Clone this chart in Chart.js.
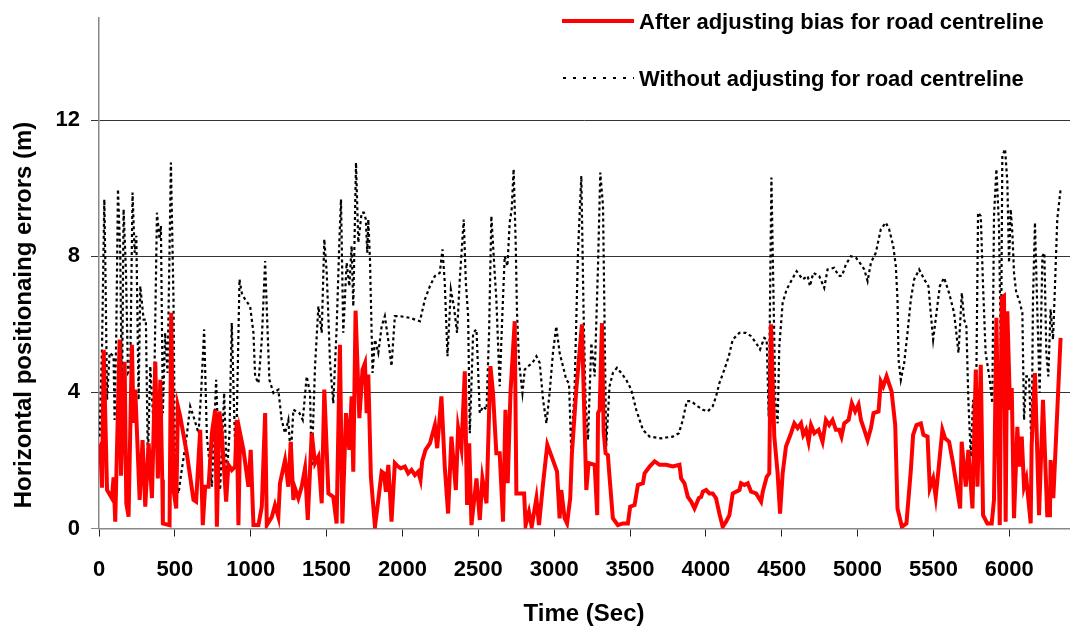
<!DOCTYPE html>
<html>
<head>
<meta charset="utf-8">
<title>Horizontal positioning errors</title>
<script src="https://cdn.jsdelivr.net/npm/chart.js@4.4.1/dist/chart.umd.min.js"></script>
<style>
    html, body { margin: 0; padding: 0; background: #fff; }
    #wrap { width: 1070px; height: 626px; position: relative; }
</style>
</head>
<body>
<div id="wrap"><canvas id="errorChart"></canvas></div>
<script>
// Tick labels
const xTicks = [0, 500, 1000, 1500, 2000, 2500, 3000, 3500, 4000, 4500, 5000, 5500, 6000];
const yTicks = [0, 4, 8, 12];

// After adjusting bias for road centreline (red)
const adjustedTime = [
    0, 9, 20, 31, 53, 85, 96, 107, 136, 145, 169, 180, 195, 217, 228, 239, 268, 287, 305, 327,
    349, 371, 388, 404, 417, 421, 465, 476, 491, 509, 520, 535, 579, 623, 640, 667, 684, 700, 722, 744,
    766, 777, 794, 809, 838, 853, 875, 897, 908, 919, 930, 952, 985, 1000, 1018, 1051, 1073, 1095, 1106, 1139,
    1160, 1182, 1193, 1226, 1248, 1264, 1281, 1292, 1314, 1336, 1358, 1376, 1402, 1424, 1446, 1468, 1485, 1512, 1544, 1566,
    1588, 1604, 1628, 1650, 1665, 1676, 1691, 1716, 1737, 1753, 1764, 1775, 1792, 1819, 1841, 1863, 1878, 1891, 1907, 1928,
    1950, 1972, 1988, 2016, 2038, 2060, 2082, 2104, 2119, 2130, 2152, 2181, 2214, 2229, 2257, 2279, 2301, 2323, 2352, 2367,
    2389, 2411, 2426, 2440, 2455, 2488, 2510, 2527, 2554, 2580, 2597, 2619, 2641, 2663, 2679, 2694, 2712, 2740, 2751, 2784,
    2802, 2812, 2834, 2852, 2883, 2900, 2927, 2955, 2992, 3019, 3036, 3047, 3069, 3085, 3106, 3117, 3146, 3183, 3212, 3227,
    3267, 3284, 3289, 3300, 3315, 3326, 3339, 3354, 3365, 3387, 3420, 3453, 3486, 3501, 3530, 3552, 3585, 3596, 3629, 3662,
    3695, 3738, 3782, 3826, 3837, 3859, 3881, 3903, 3925, 3953, 3969, 3980, 4002, 4023, 4045, 4067, 4089, 4111, 4133, 4155,
    4177, 4199, 4221, 4232, 4254, 4276, 4298, 4331, 4364, 4375, 4401, 4418, 4429, 4451, 4473, 4489, 4506, 4528, 4561, 4583,
    4605, 4627, 4642, 4660, 4677, 4693, 4715, 4743, 4769, 4791, 4813, 4835, 4857, 4879, 4894, 4912, 4941, 4962, 4984, 5006,
    5022, 5044, 5066, 5088, 5105, 5138, 5153, 5169, 5191, 5224, 5248, 5263, 5292, 5322, 5351, 5366, 5388, 5417, 5434, 5461,
    5476, 5498, 5515, 5533, 5559, 5577, 5603, 5629, 5676, 5686, 5713, 5730, 5757, 5779, 5790, 5812, 5827, 5855, 5884, 5899,
    5915, 5937, 5950, 5965, 5976, 5987, 6005, 6016, 6031, 6053, 6064, 6082, 6097, 6112, 6141, 6147, 6169, 6196, 6222, 6250,
    6268, 6272, 6290, 6338
];
const adjustedError = [
    2.3, 2.4, 1.2, 5.25, 1.13, 0.89, 1.5, 0.2, 5.55, 1.55, 4.9, 0.74, 0.35, 5.4, 3.1, 4.08, 0.84, 2.6, 0.64, 2.5,
    0.89, 4.9, 1.47, 4.37, 1.43, 0.15, 0.1, 6.34, 1.13, 0.59, 3.59, 3.3, 2.2, 0.84, 0.79, 2.9, 0.1, 1.23, 1.23, 2.8,
    3.49, 0.05, 3.44, 2.8, 0.79, 1.87, 1.72, 1.82, 3.19, 0.1, 2.8, 2.31, 1.23, 2.31, 0.1, 0.1, 0.64, 3.39, 0.1, 0.34,
    0.69, 0.34, 1.33, 2.01, 1.23, 2.55, 0.84, 1.18, 0.89, 1.23, 1.77, 0.25, 2.8, 1.92, 2.11, 0.74, 4.08, 1.03, 0.93, 0.15,
    5.4, 0.15, 3.39, 2.31, 3.88, 1.67, 6.4, 3.24, 4.67, 4.86, 3.39, 4.52, 1.52, 0.05, 0.84, 1.67, 1.62, 1.08, 1.87, 0.2,
    1.92, 1.82, 1.77, 1.82, 1.62, 1.72, 1.57, 1.67, 1.43, 1.97, 2.31, 2.5, 3.04, 2.36, 3.88, 1.82, 0.44, 2.7, 1.13, 2.95,
    2.36, 4.62, 0.69, 2.5, 0.1, 1.47, 0.25, 1.47, 0.74, 4.77, 3.98, 2.21, 2.21, 0.2, 3.49, 1.33, 3.98, 6.09, 1.03, 1.03,
    1.03, 0.1, 0.49, 0.05, 0.89, 0.1, 1.33, 2.46, 2.01, 1.67, 0.3, 1.13, 0.3, 0.15, 0.89, 2.21, 4.08, 6.0, 1.13, 1.92,
    1.87, 0.39, 3.39, 3.49, 6.04, 2.85, 2.21, 2.16, 1.52, 0.3, 0.1, 0.15, 0.15, 0.64, 0.69, 1.28, 1.33, 1.62, 1.82, 1.97,
    1.87, 1.87, 1.82, 1.87, 1.47, 1.33, 0.93, 0.79, 0.59, 0.89, 0.93, 1.08, 1.13, 1.03, 1.03, 0.89, 0.44, 0.05, 0.2, 0.39,
    1.03, 1.08, 1.13, 1.33, 1.28, 1.33, 1.08, 1.03, 0.79, 1.08, 1.52, 1.62, 6.0, 2.7, 1.62, 0.44, 1.62, 2.41, 2.8, 3.09,
    2.95, 3.09, 2.75, 2.9, 2.55, 3.04, 2.8, 2.9, 2.55, 3.19, 3.04, 3.19, 2.9, 2.9, 2.7, 3.09, 3.19, 3.68, 3.44, 3.64,
    3.19, 2.9, 2.6, 2.95, 3.39, 3.44, 4.32, 4.18, 4.47, 4.03, 3.04, 0.59, 0.05, 0.15, 1.72, 2.75, 3.04, 3.09, 2.75, 2.7,
    1.18, 1.47, 0.93, 1.72, 2.9, 2.65, 2.55, 1.92, 0.59, 2.55, 1.23, 2.31, 0.59, 4.67, 1.23, 4.81, 0.39, 0.15, 0.15, 0.84,
    6.19, 0.1, 6.78, 6.83, 0.2, 6.38, 3.49, 4.13, 0.3, 2.99, 1.82, 2.7, 1.23, 1.47, 0.15, 2.41, 4.57, 0.39, 3.78, 0.39,
    0.39, 2.01, 0.89, 5.6
];

// Without adjusting for road centreline (black dotted)
const rawTime = [
    4, 20, 35, 42, 53, 70, 96, 103, 114, 125, 140, 151, 162, 178, 191, 206, 221, 235, 246, 261,
    272, 294, 309, 322, 338, 360, 382, 399, 408, 421, 436, 452, 474, 491, 502, 524, 542, 575, 601, 623,
    656, 673, 693, 711, 744, 772, 798, 825, 842, 860, 875, 897, 908, 926, 941, 963, 996, 1018, 1029, 1051,
    1073, 1095, 1110, 1123, 1150, 1182, 1204, 1226, 1248, 1264, 1281, 1321, 1343, 1369, 1391, 1402, 1424, 1446, 1468, 1485,
    1501, 1523, 1544, 1566, 1584, 1595, 1610, 1632, 1650, 1665, 1676, 1694, 1709, 1731, 1746, 1759, 1768, 1775, 1786, 1803,
    1819, 1841, 1863, 1884, 1906, 1928, 1950, 1983, 2049, 2115, 2148, 2181, 2214, 2246, 2264, 2279, 2297, 2319, 2339, 2360,
    2378, 2404, 2418, 2433, 2444, 2466, 2488, 2510, 2532, 2554, 2571, 2586, 2608, 2619, 2641, 2659, 2674, 2692, 2707, 2720,
    2733, 2747, 2755, 2769, 2791, 2806, 2828, 2856, 2883, 2905, 2927, 2949, 2970, 2992, 3014, 3036, 3058, 3080, 3098, 3113,
    3135, 3157, 3179, 3194, 3207, 3223, 3245, 3267, 3289, 3304, 3322, 3343, 3365, 3387, 3414, 3442, 3475, 3508, 3541, 3585,
    3629, 3705, 3782, 3822, 3848, 3874, 3903, 3947, 3980, 4012, 4045, 4067, 4089, 4122, 4151, 4177, 4221, 4265, 4298, 4331,
    4357, 4385, 4401, 4414, 4423, 4432, 4445, 4458, 4473, 4484, 4506, 4532, 4568, 4598, 4638, 4671, 4686, 4708, 4747, 4780,
    4802, 4846, 4875, 4897, 4923, 4956, 4989, 5022, 5044, 5066, 5088, 5120, 5153, 5186, 5208, 5235, 5252, 5263, 5270, 5285,
    5307, 5329, 5351, 5373, 5406, 5439, 5467, 5482, 5498, 5520, 5542, 5570, 5603, 5636, 5665, 5687, 5702, 5717, 5730, 5746,
    5761, 5779, 5794, 5812, 5827, 5844, 5871, 5888, 5899, 5915, 5932, 5945, 5954, 5972, 5987, 5998, 6009, 6020, 6031, 6046,
    6064, 6086, 6097, 6112, 6130, 6147, 6156, 6169, 6185, 6200, 6218, 6231, 6244, 6257, 6272, 6288, 6301, 6316, 6338
];
const rawError = [
    2.7, 5.35, 9.67, 7.71, 3.78, 5.16, 5.06, 3.19, 5.75, 9.97, 8.1, 3.49, 9.38, 7.51, 4.57, 4.67, 9.87, 8.1, 8.6, 3.78,
    7.12, 6.14, 6.14, 2.01, 4.77, 3.0, 9.28, 8.5, 8.89, 3.39, 5.75, 4.57, 10.75, 6.73, 1.33, 1.03, 1.62, 2.6, 3.59, 3.29,
    2.8, 3.98, 5.85, 2.7, 1.23, 4.37, 1.13, 3.98, 1.52, 2.8, 6.04, 2.41, 3.19, 7.32, 6.92, 6.73, 6.53, 5.75, 4.47, 4.27,
    5.55, 7.86, 5.94, 4.37, 3.98, 4.08, 3.19, 2.8, 3.19, 2.11, 3.49, 3.39, 3.19, 4.47, 3.98, 1.82, 4.77, 6.53, 5.75, 8.5,
    7.51, 4.86, 3.68, 5.85, 8.4, 9.67, 5.75, 7.81, 7.12, 8.3, 6.53, 10.75, 8.4, 9.28, 9.28, 9.08, 8.1, 9.08, 7.91, 4.57,
    5.55, 5.16, 5.94, 6.24, 5.55, 4.77, 6.24, 6.24, 6.19, 6.09, 6.73, 7.12, 7.42, 7.51, 8.2, 7.22, 5.06, 7.02, 6.53, 5.75,
    7.32, 9.08, 7.22, 6.24, 2.8, 5.75, 5.85, 3.39, 3.59, 3.49, 5.75, 9.18, 7.51, 6.73, 4.18, 6.34, 8.0, 7.71, 8.99, 9.38,
    10.56, 8.3, 6.34, 4.86, 3.98, 4.67, 4.77, 4.86, 5.06, 4.86, 3.78, 3.09, 3.98, 5.16, 5.94, 5.16, 4.77, 4.37, 4.27, 2.21,
    4.18, 8.1, 10.36, 6.34, 3.78, 2.6, 5.45, 4.47, 7.71, 10.46, 9.48, 2.41, 4.18, 4.57, 4.72, 4.57, 4.37, 4.08, 3.49, 2.9,
    2.7, 2.65, 2.7, 2.8, 3.19, 3.74, 3.74, 3.59, 3.49, 3.44, 3.59, 3.88, 4.27, 4.67, 5.06, 5.55, 5.75, 5.75, 5.65, 5.45,
    5.26, 5.6, 5.55, 3.29, 6.73, 10.31, 7.02, 3.78, 3.09, 5.35, 6.63, 7.02, 7.32, 7.56, 7.32, 7.42, 7.12, 7.51, 7.42, 7.07,
    7.61, 7.66, 7.42, 7.42, 7.76, 8.0, 7.96, 7.76, 7.61, 7.27, 7.81, 8.1, 8.79, 8.99, 8.79, 8.3, 7.71, 6.73, 4.96, 4.37,
    4.86, 5.75, 6.73, 7.32, 7.61, 7.32, 7.12, 6.34, 5.55, 6.34, 7.12, 7.37, 6.92, 6.34, 5.16, 6.92, 6.14, 5.94, 3.78, 2.11,
    3.78, 2.8, 9.28, 9.18, 7.12, 5.16, 4.37, 3.68, 9.18, 10.56, 8.89, 4.96, 10.95, 11.15, 10.17, 7.81, 9.38, 8.69, 7.51, 6.92,
    6.73, 6.34, 3.19, 4.47, 4.47, 2.31, 6.73, 8.99, 6.34, 3.98, 8.0, 8.1, 5.16, 4.47, 6.44, 5.55, 7.12, 9.08, 9.97
];

const adjustedLabel = 'After adjusting bias for road centreline';
const rawLabel = 'Without adjusting for road centreline';
const xTitle = 'Time (Sec)';
const yTitle = 'Horizontal positionaing errors (m)';

const tickFont = { family: '"Liberation Sans", Arial, sans-serif', size: 22, weight: 'bold' };

// judul sumbu dan legenda digambar sendiri
const extraText = {
    id: 'extraText',
    afterDraw(chart) {
        const c = chart.ctx;
        c.save();
        c.fillStyle = '#000';
        c.textAlign = 'center';
        c.textBaseline = 'alphabetic';
        c.font = 'bold 24px "Liberation Sans", Arial, sans-serif';
        c.fillText(xTitle, 584, 621);
        c.save();
        c.translate(31, 315);
        c.rotate(-Math.PI / 2);
        c.fillText(yTitle, 0, 0);
        c.restore();

        // legenda
        c.font = 'bold 22px "Liberation Sans", Arial, sans-serif';
        c.textAlign = 'left';
        c.lineCap = 'butt';
        c.strokeStyle = '#ff0000';
        c.lineWidth = 4;
        c.beginPath();
        c.moveTo(562, 21);
        c.lineTo(634, 21);
        c.stroke();
        c.fillText(adjustedLabel, 639, 29);

        c.strokeStyle = '#000';
        c.lineWidth = 2;
        c.setLineDash([3, 7]);
        c.beginPath();
        c.moveTo(563, 78);
        c.lineTo(634, 78);
        c.stroke();
        c.setLineDash([]);
        c.fillText(rawLabel, 639, 86);
        c.restore();
    }
};

const ctx = document.getElementById('errorChart').getContext('2d');
new Chart(ctx, {
    type: 'scatter',
    data: {
        datasets: [{
            label: adjustedLabel,
            data: adjustedTime.map((t, i) => ({ x: t, y: adjustedError[i] })),
            showLine: true,
            borderColor: '#ff0000',
            borderWidth: 4,
            pointRadius: 0,
            tension: 0
        }, {
            label: rawLabel,
            data: rawTime.map((t, i) => ({ x: t, y: rawError[i] })),
            showLine: true,
            borderColor: '#000',
            borderWidth: 2.2,
            borderDash: [3, 3],
            pointRadius: 0,
            tension: 0
        }]
    },
    options: {
        responsive: true,
        maintainAspectRatio: false,
        animation: false,
        layout: { padding: { top: 18, right: 0, left: 0, bottom: 0 } },
        scales: {
            x: {
                type: 'linear',
                min: 0,
                max: 6400,
                afterBuildTicks: (scale) => { scale.ticks = xTicks.map(v => ({ value: v })); },
                afterFit: (scale) => { scale.height = 97.5; },
                ticks: { font: tickFont, color: '#000', padding: 20, maxRotation: 0, autoSkip: false, callback: (v) => String(v) },
                grid: { drawOnChartArea: false, drawTicks: true, tickLength: 8, color: '#222', lineWidth: 1 },
                border: { color: '#888', width: 1.5 }
            },
            y: {
                min: 0,
                max: 15,
                afterBuildTicks: (scale) => { scale.ticks = yTicks.map(v => ({ value: v })); },
                afterFit: (scale) => {
                    scale.width = 99;
                    scale.paddingTop = 0;
                    scale.paddingBottom = 0;
                },
                ticks: { font: tickFont, color: '#000', padding: 11, callback: (v) => String(v) },
                grid: {
                    color: (c) => c.tick && c.tick.value === 0 ? '#888' : '#333',
                    lineWidth: 1,
                    tickLength: 8
                },
                border: { color: '#888', width: 1.5 }
            }
        },
        plugins: { legend: { display: false }, tooltip: { enabled: false } }
    },
    plugins: [extraText]
});
</script>
</body>
</html>
